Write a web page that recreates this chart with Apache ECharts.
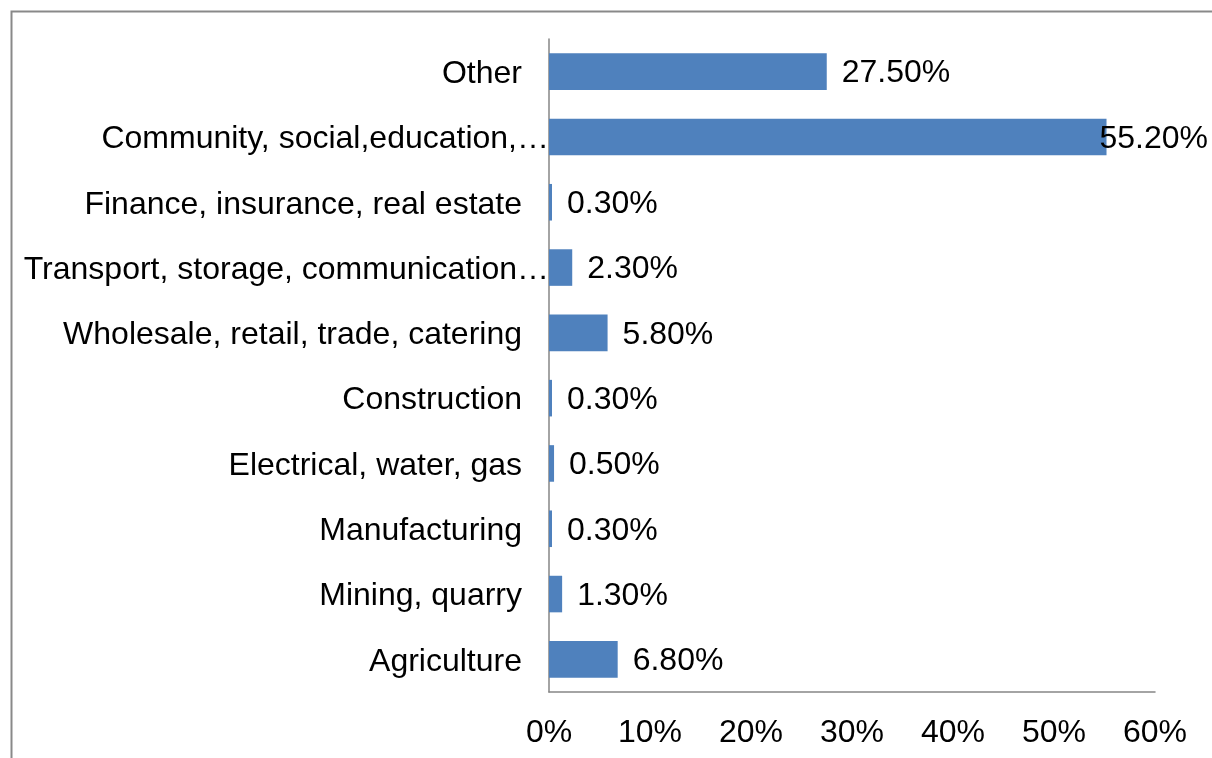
<!DOCTYPE html>
<html>
<head>
<meta charset="utf-8">
<style>
  html, body { margin: 0; padding: 0; background: #ffffff; }
  #chart { width: 1212px; height: 758px; }
</style>
<script src="https://cdn.jsdelivr.net/npm/echarts@6/dist/echarts.min.js"></script>
</head>
<body>
<div id="chart"></div>
<script>
// Employment share by sector (%), listed from bottom to top
const categories = [
  'Agriculture',
  'Mining, quarry',
  'Manufacturing',
  'Electrical, water, gas',
  'Construction',
  'Wholesale, retail, trade, catering',
  'Transport, storage, communication…',
  'Finance, insurance, real estate',
  'Community, social,education,…',
  'Other'
];
const shares = [6.8, 1.3, 0.3, 0.5, 0.3, 5.8, 2.3, 0.3, 55.2, 27.5];
const tickValues = [0, 10, 20, 30, 40, 50, 60];

const FONT = '"Liberation Sans", Arial, sans-serif';
const FONT_SIZE = 32;
const AXIS_MAX = tickValues[tickValues.length - 1];
const STEP = tickValues[1] - tickValues[0];

// Labels that were shortened keep their ellipsis just past the normal right edge
const isShortened = (s) => s.endsWith('…');

// Bars whose value label would run past the plot get it pulled back onto the bar end
const barData = shares.map((v) => {
  const item = { value: v };
  if (v > AXIS_MAX * 0.9) {
    item.label = { distance: -7 };
  }
  return item;
});

const chart = echarts.init(document.getElementById('chart'), null, { renderer: 'canvas' });

chart.setOption({
  animation: false,
  backgroundColor: '#ffffff',
  textStyle: { fontFamily: FONT },
  graphic: [{
    type: 'rect',
    left: 9,
    top: 9,
    shape: { width: 1260, height: 800 },
    style: { fill: 'none', stroke: '#898989', lineWidth: 2 },
    silent: true,
    z: 0
  }],
  grid: {
    left: 549,
    right: 57,
    top: 39,
    bottom: 66,
    containLabel: false
  },
  xAxis: {
    type: 'value',
    min: tickValues[0],
    max: AXIS_MAX,
    interval: STEP,
    axisLine: { show: true, lineStyle: { color: '#868686', width: 1.5 } },
    axisTick: { show: false },
    splitLine: { show: false },
    axisLabel: {
      formatter: '{value}%',
      color: '#000000',
      fontFamily: FONT,
      fontSize: FONT_SIZE,
      margin: 25
    }
  },
  yAxis: {
    type: 'category',
    data: categories,
    axisLine: { show: true, lineStyle: { color: '#868686', width: 1.5 } },
    axisTick: { show: false },
    splitLine: { show: false },
    axisLabel: {
      margin: 0,
      formatter: (name) => (isShortened(name) ? '{s|' + name + '}' : '{n|' + name + '}'),
      rich: {
        n: { color: '#000000', fontFamily: FONT, fontSize: FONT_SIZE, padding: [5, 27, 0, 0] },
        s: { color: '#000000', fontFamily: FONT, fontSize: FONT_SIZE, padding: [5, 0, 0, 0] }
      }
    }
  },
  series: [{
    type: 'bar',
    data: barData,
    barCategoryGap: '44%',
    itemStyle: { color: '#4F81BD' },
    label: {
      show: true,
      position: 'right',
      distance: 15,
      offset: [0, 2],
      color: '#000000',
      fontFamily: FONT,
      fontSize: FONT_SIZE,
      formatter: (p) => p.value.toFixed(2) + '%'
    }
  }]
});
</script>
</body>
</html>
